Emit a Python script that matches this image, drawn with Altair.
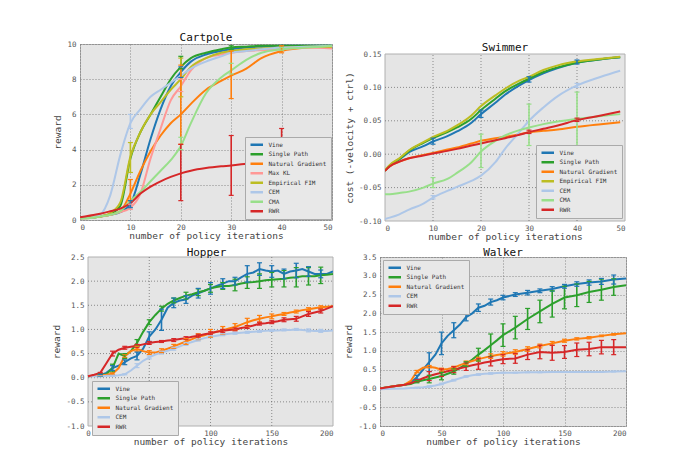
import altair as alt
import pandas as pd

FONT = "DejaVu Sans Mono"
SERIES = ["Vine", "Single Path", "Natural Gradient", "Max KL", "Empirical FIM", "CEM", "CMA", "RWR"]
COLORS = ["#1f77b4", "#2ca02c", "#ff7f0e", "#ff9896", "#bcbd22", "#aec7e8", "#98df8a", "#d62728"]
COLOR_OF = dict(zip(SERIES, COLORS))
BG = "#e5e5e5"
FRAME = "#b0b0b0"
GRID = "#555555"

# ---------------- Cartpole ----------------
CP_X = [0, 2, 4, 6, 8, 10, 12, 14, 16, 18, 20, 22, 25, 28, 30, 33, 36, 40, 45, 50]
CP_VINE = [0.1, 0.15, 0.2, 0.3, 0.45, 0.9, 2.6, 4.6, 6.3, 7.6, 8.4, 9.0, 9.4, 9.6, 9.7, 9.8, 9.85, 9.9, 9.9, 9.9]
CP_SINGLE = [0.1, 0.13, 0.2, 0.35, 0.8, 3.5, 5.0, 6.0, 7.0, 8.0, 8.7, 9.2, 9.5, 9.7, 9.8, 9.85, 9.9, 9.9, 9.9, 9.9]
CP_NATGRAD = [0.1, 0.15, 0.2, 0.3, 0.5, 1.5, 2.8, 3.9, 4.8, 5.5, 6.0, 6.6, 7.4, 7.9, 8.2, 8.6, 9.2, 9.6, 9.8, 9.85]
CP_MAXKL = [0.1, 0.12, 0.2, 0.3, 0.45, 0.7, 1.5, 3.5, 5.2, 6.8, 7.6, 8.5, 9.2, 9.4, 9.5, 9.6, 9.65, 9.7, 9.8, 9.75]
CP_EMPFIM = [0.1, 0.12, 0.2, 0.4, 1.0, 3.6, 5.0, 6.0, 6.7, 7.4, 8.0, 8.7, 9.2, 9.5, 9.6, 9.7, 9.75, 9.8, 9.85, 9.85]
CP_CEM = [0.1, 0.12, 0.3, 1.4, 3.7, 5.5, 6.3, 7.0, 7.4, 7.8, 8.2, 8.6, 9.0, 9.3, 9.5, 9.6, 9.7, 9.8, 9.85, 9.9]
CP_CMA = [0.1, 0.12, 0.2, 0.3, 0.5, 1.1, 1.6, 2.2, 2.8, 3.4, 4.2, 5.5, 7.2, 8.1, 8.5, 9.1, 9.5, 9.7, 9.8, 9.9]
CP_RWR = [0.15, 0.25, 0.35, 0.5, 0.65, 0.95, 1.5, 1.9, 2.2, 2.45, 2.65, 2.8, 2.95, 3.05, 3.1, 3.2, 3.3, 3.4, 3.8, 4.4]
CP_ERR_SERIES = ["Max KL", "Vine", "Natural Gradient", "Empirical FIM", "CEM",
                 "Max KL", "Vine", "Single Path", "Empirical FIM", "Natural Gradient", "CMA", "RWR",
                 "Single Path", "CMA", "Natural Gradient", "RWR",
                 "CMA", "Natural Gradient", "RWR"]
CP_ERR_X = [10, 10, 10, 10, 10,
            20, 20, 20, 20, 20, 20, 20,
            30, 30, 30, 30,
            40, 40, 40]
CP_ERR_LO = [0.6, 0.7, 1.1, 2.7, 5.2,
             7.3, 8.1, 8.6, 7.0, 4.3, 4.0, 1.1,
             9.7, 8.3, 6.9, 1.4,
             9.65, 9.5, 3.0]
CP_ERR_HI = [0.9, 1.1, 2.3, 4.4, 6.0,
             8.0, 8.7, 9.3, 9.2, 8.8, 4.7, 4.3,
             9.9, 8.9, 9.6, 4.8,
             9.8, 9.9, 5.2]

# ---------------- Swimmer ----------------
SW_X = [0, 1, 3, 5, 8, 10, 13, 15, 18, 20, 23, 25, 28, 30, 33, 36, 40, 45, 49]
SW_VINE = [-0.025, -0.018, -0.008, 0.003, 0.012, 0.019, 0.027, 0.034, 0.047, 0.060, 0.077, 0.089, 0.103, 0.111, 0.121, 0.129, 0.137, 0.142, 0.145]
SW_SINGLE = [-0.025, -0.017, -0.007, 0.005, 0.017, 0.024, 0.033, 0.040, 0.053, 0.066, 0.083, 0.094, 0.106, 0.113, 0.123, 0.130, 0.137, 0.142, 0.145]
SW_NATGRAD = [-0.025, -0.018, -0.011, -0.006, -0.001, 0.002, 0.007, 0.010, 0.016, 0.020, 0.024, 0.026, 0.030, 0.033, 0.035, 0.037, 0.041, 0.045, 0.048]
SW_EMPFIM = [-0.024, -0.016, -0.006, 0.006, 0.018, 0.026, 0.035, 0.043, 0.058, 0.072, 0.088, 0.098, 0.110, 0.116, 0.126, 0.133, 0.139, 0.143, 0.146]
SW_CEM = [-0.097, -0.095, -0.090, -0.083, -0.074, -0.065, -0.055, -0.049, -0.040, -0.032, -0.012, 0.008, 0.033, 0.050, 0.070, 0.087, 0.103, 0.116, 0.125]
SW_CMA = [-0.060, -0.060, -0.058, -0.056, -0.050, -0.044, -0.037, -0.028, -0.012, 0.004, 0.020, 0.028, 0.036, 0.040, 0.045, 0.049, 0.053, 0.057, 0.060]
SW_RWR = [-0.025, -0.018, -0.011, -0.006, -0.002, 0.001, 0.005, 0.008, 0.013, 0.016, 0.021, 0.024, 0.029, 0.033, 0.038, 0.043, 0.051, 0.058, 0.064]
SW_ERR_SERIES = ["CMA", "CEM", "Vine", "CMA", "Vine", "CMA", "Vine", "RWR", "CMA", "Vine", "RWR", "CEM"]
SW_ERR_X = [10, 10, 10, 20, 20, 30, 30, 30, 40, 40, 40, 40]
SW_ERR_LO = [-0.050, -0.067, 0.015, -0.020, 0.055, 0.013, 0.108, 0.031, 0.013, 0.135, 0.049, 0.100]
SW_ERR_HI = [-0.035, -0.062, 0.024, 0.030, 0.066, 0.075, 0.116, 0.036, 0.093, 0.141, 0.054, 0.106]

# ---------------- Hopper ----------------
HO_X = list(range(0, 201, 5))
HO_VINE = [0.03, 0.04, 0.05, 0.1, 0.2, 0.25, 0.32, 0.4, 0.45, 0.6, 0.85, 1.0, 1.2, 1.45, 1.55, 1.6, 1.62, 1.7, 1.75, 1.8, 1.85,
           1.9, 1.95, 2.0, 2.0, 2.08, 2.15, 2.18, 2.25, 2.22, 2.2, 2.22, 2.15, 2.2, 2.22, 2.25, 2.2, 2.15, 2.15, 2.15, 2.2]
HO_SINGLE = [0.03, 0.04, 0.05, 0.07, 0.2, 0.5, 0.45, 0.55, 0.72, 0.95, 1.15, 1.3, 1.43, 1.53, 1.6, 1.65, 1.7, 1.73, 1.77, 1.8, 1.85,
             1.88, 1.9, 1.9, 1.92, 1.95, 1.97, 1.98, 2.0, 2.02, 2.03, 2.04, 2.05, 2.07, 2.08, 2.1, 2.1, 2.1, 2.12, 2.13, 2.15]
HO_NATGRAD = [0.03, 0.04, 0.05, 0.06, 0.08, 0.2, 0.45, 0.55, 0.6, 0.55, 0.52, 0.52, 0.56, 0.6, 0.65, 0.7, 0.75, 0.8, 0.85, 0.88, 0.92,
              0.95, 0.98, 1.02, 1.05, 1.1, 1.15, 1.19, 1.22, 1.25, 1.27, 1.3, 1.32, 1.35, 1.37, 1.4, 1.42, 1.44, 1.46, 1.47, 1.48]
HO_CEM = [0.03, 0.03, 0.03, 0.04, 0.04, 0.05, 0.07, 0.15, 0.25, 0.35, 0.42, 0.48, 0.52, 0.56, 0.6, 0.65, 0.7, 0.74, 0.78, 0.82, 0.85,
          0.87, 0.89, 0.91, 0.92, 0.93, 0.94, 0.95, 0.96, 0.97, 0.98, 0.98, 0.99, 0.99, 1.0, 0.99, 0.98, 0.97, 0.97, 0.97, 0.98]
HO_RWR = [0.03, 0.06, 0.1, 0.3, 0.5, 0.58, 0.62, 0.64, 0.66, 0.69, 0.72, 0.74, 0.75, 0.77, 0.78, 0.8, 0.82, 0.85, 0.87, 0.9, 0.92,
          0.95, 0.97, 0.99, 1.0, 1.03, 1.05, 1.08, 1.12, 1.13, 1.15, 1.17, 1.2, 1.21, 1.22, 1.27, 1.32, 1.35, 1.38, 1.43, 1.48]
HO_ERR_X = list(range(10, 191, 10))
HO_ERR_VINE = [0.02, 0.05, 0.05, 0.08, 0.1, 0.22, 0.1, 0.08, 0.1, 0.12, 0.1, 0.08, 0.17, 0.13, 0.12, 0.1, 0.15, 0.1, 0.08]
HO_ERR_SINGLE = [0.02, 0.08, 0.05, 0.07, 0.05, 0.05, 0.05, 0.07, 0.07, 0.08, 0.07, 0.12, 0.12, 0.15, 0.15, 0.17, 0.2, 0.18, 0.17]
HO_ERR_NATGRAD = [0.01, 0.02, 0.03, 0.05, 0.04, 0.04, 0.04, 0.06, 0.06, 0.08, 0.08, 0.07, 0.08, 0.07, 0.05, 0.03, 0.03, 0.03, 0.03]
HO_ERR_CEM = [0.01, 0.01, 0.01, 0.04, 0.03, 0.03, 0.03, 0.03, 0.02, 0.02, 0.02, 0.02, 0.02, 0.02, 0.02, 0.02, 0.02, 0.03, 0.03]
HO_ERR_RWR = [0.01, 0.05, 0.03, 0.03, 0.03, 0.02, 0.03, 0.03, 0.03, 0.03, 0.03, 0.03, 0.03, 0.03, 0.03, 0.04, 0.05, 0.05, 0.04]

# ---------------- Walker ----------------
WA_X = [0, 10, 20, 25, 30, 35, 40, 45, 50, 55, 60, 65, 70, 75, 80, 85, 90, 95, 100, 110, 120, 130, 140, 150, 160, 170, 180, 190, 200]
WA_VINE = [0.0, 0.05, 0.1, 0.15, 0.3, 0.5, 0.7, 0.9, 1.2, 1.4, 1.55, 1.7, 1.9, 2.0, 2.15, 2.2, 2.3, 2.35, 2.42, 2.5, 2.55, 2.6, 2.65, 2.72, 2.78, 2.82, 2.85, 2.9, 2.93]
WA_SINGLE = [0.0, 0.05, 0.1, 0.12, 0.18, 0.22, 0.25, 0.29, 0.33, 0.39, 0.45, 0.55, 0.65, 0.77, 0.9, 1.02, 1.15, 1.28, 1.42, 1.62, 1.85, 2.05, 2.25, 2.42, 2.48, 2.57, 2.63, 2.7, 2.75]
WA_NATGRAD = [0.0, 0.05, 0.1, 0.2, 0.45, 0.55, 0.58, 0.55, 0.5, 0.52, 0.55, 0.62, 0.68, 0.73, 0.78, 0.82, 0.86, 0.89, 0.92, 0.97, 1.05, 1.13, 1.2, 1.27, 1.32, 1.35, 1.4, 1.44, 1.47]
WA_CEM = [-0.02, -0.01, 0.0, 0.01, 0.02, 0.03, 0.05, 0.08, 0.12, 0.17, 0.22, 0.27, 0.32, 0.35, 0.37, 0.39, 0.4, 0.41, 0.42, 0.42, 0.43, 0.43, 0.44, 0.44, 0.44, 0.44, 0.44, 0.45, 0.46]
WA_RWR = [0.0, 0.05, 0.1, 0.14, 0.2, 0.27, 0.33, 0.38, 0.42, 0.46, 0.5, 0.54, 0.58, 0.62, 0.65, 0.69, 0.72, 0.75, 0.78, 0.8, 0.9, 0.97, 0.95, 0.97, 1.03, 1.05, 1.1, 1.1, 1.1]
WA_ERR_X = list(range(30, 191, 10))
WA_ERR_VINE = [0.05, 0.25, 0.3, 0.2, 0.1, 0.1, 0.08, 0.06, 0.05, 0.06, 0.05, 0.06, 0.05, 0.06, 0.07, 0.08, 0.12]
WA_ERR_SINGLE = [0.03, 0.1, 0.1, 0.07, 0.06, 0.17, 0.3, 0.3, 0.3, 0.28, 0.3, 0.35, 0.3, 0.3, 0.28, 0.28, 0.22]
WA_ERR_NATGRAD = [0.03, 0.03, 0.04, 0.04, 0.05, 0.05, 0.06, 0.06, 0.06, 0.06, 0.05, 0.05, 0.04, 0.03, 0.03, 0.02, 0.02]
WA_ERR_CEM = [0.01, 0.02, 0.02, 0.02, 0.02, 0.02, 0.02, 0.01, 0.01, 0.01, 0.01, 0.01, 0.01, 0.01, 0.01, 0.01, 0.01]
WA_ERR_RWR = [0.03, 0.12, 0.1, 0.08, 0.1, 0.14, 0.12, 0.12, 0.13, 0.13, 0.18, 0.2, 0.17, 0.18, 0.18, 0.18, 0.2]


def errs_from_halfwidth(x, series, err_x, halfwidths):
    s_out, x_out, lo, hi = [], [], [], []
    for name, hw in halfwidths.items():
        vals = series[name]
        for xv, h in zip(err_x, hw):
            c = vals[x.index(xv)]
            s_out.append(name)
            x_out.append(xv)
            lo.append(c - h)
            hi.append(c + h)
    return s_out, x_out, lo, hi


def make_panel(title, x, series, errs, xdom, xticks, ydom, yticks, yfmt, ytitle,
               legend_orient, legend_offset, w, h, interp, drop_px=0, left_px=0, legend_xy=None):
    """drop_px / left_px > 0 move the framed plot box down / right inside its cell."""
    names = list(series.keys())
    rows = [{"x": xv, "y": yv, "s": n} for n in names for xv, yv in zip(x, series[n])]
    df = pd.DataFrame(rows)
    es, ex, elo, ehi = errs
    edf = pd.DataFrame({"s": es, "x": ex, "lo": elo, "hi": ehi})
    cscale = alt.Scale(domain=names, range=[COLOR_OF[n] for n in names])
    if legend_xy:
        leg = alt.Legend(orient="none", legendX=legend_xy[0], legendY=legend_xy[1], title=None)
    else:
        leg = alt.Legend(orient=legend_orient, offset=legend_offset, title=None)
    color = alt.Color("s:N", scale=cscale, sort=names, legend=leg)
    boxed = bool(drop_px or left_px)
    ytop = ydom[1] + (ydom[1] - ydom[0]) * drop_px / h
    xlo = xdom[0] - (xdom[1] - xdom[0]) * left_px / w
    xscale = alt.Scale(domain=[xlo, xdom[1]], nice=False, zero=False)
    xargs = dict(values=xticks, title="number of policy iterations", format="d",
                 labelPadding=3, titlePadding=0, grid=not boxed)
    if left_px:
        xargs["titleX"] = left_px + w / 2
    xaxis = alt.Axis(**xargs)
    yscale = alt.Scale(domain=[ydom[0], ytop], nice=False, zero=False)
    yargs = dict(values=yticks, title=ytitle, format=yfmt, grid=not boxed,
                 labelExpr="replace(datum.label, '\u2212', '-')")
    if drop_px:
        yargs["titleY"] = drop_px + h / 2
    if left_px:
        yargs["offset"] = -left_px
    yaxis = alt.Axis(**yargs)
    X = lambda f: alt.X(f, scale=xscale, axis=xaxis)
    Y = lambda f: alt.Y(f, scale=yscale, axis=yaxis)

    layers = []
    if boxed:
        box = pd.DataFrame({"x0": [xdom[0]], "x1": [xdom[1]], "y0": [ydom[0]], "y1": [ydom[1]]})
        layers.append(alt.Chart(box).mark_rect(fill=BG, stroke=FRAME, strokeWidth=1).encode(
            x=X("x0:Q"), x2="x1:Q", y=Y("y0:Q"), y2="y1:Q"))
        vg = pd.DataFrame({"gx": [t for t in xticks if xdom[0] < t < xdom[1]]})
        vg["y0"] = ydom[0]
        vg["y1"] = ydom[1]
        layers.append(alt.Chart(vg).mark_rule(color=GRID, strokeDash=[1, 2], strokeWidth=0.8, opacity=0.8).encode(
            x=X("gx:Q"), y=Y("y0:Q"), y2="y1:Q"))
        hg = pd.DataFrame({"gy": [t for t in yticks if ydom[0] < t < ydom[1]]})
        hg["x0"] = xdom[0]
        hg["x1"] = xdom[1]
        layers.append(alt.Chart(hg).mark_rule(color=GRID, strokeDash=[1, 2], strokeWidth=0.8, opacity=0.8).encode(
            x=X("x0:Q"), x2="x1:Q", y=Y("gy:Q")))

    layers.append(alt.Chart(df).mark_line(strokeWidth=2, interpolate=interp, clip=True).encode(
        x=X("x:Q"), y=Y("y:Q"), color=color))
    layers.append(alt.Chart(edf).mark_rule(strokeWidth=1.6, clip=True).encode(
        x=X("x:Q"), y=Y("lo:Q"), y2="hi:Q", color=color))
    layers.append(alt.Chart(edf).mark_tick(orient="horizontal", size=5, thickness=1.2, opacity=1, clip=True).encode(
        x=X("x:Q"), y=Y("lo:Q"), color=color))
    layers.append(alt.Chart(edf).mark_tick(orient="horizontal", size=5, thickness=1.2, opacity=1, clip=True).encode(
        x=X("x:Q"), y=Y("hi:Q"), color=color))
    out = alt.layer(*layers).properties(width=w + left_px, height=h + drop_px, title=title)
    if boxed:
        out = out.properties(view=alt.ViewBackground(fill="transparent", stroke="transparent"))
    return out


cp_series = {"Vine": CP_VINE, "Single Path": CP_SINGLE, "Natural Gradient": CP_NATGRAD,
             "Max KL": CP_MAXKL, "Empirical FIM": CP_EMPFIM, "CEM": CP_CEM, "CMA": CP_CMA, "RWR": CP_RWR}
cartpole = make_panel(alt.TitleParams("Cartpole", dy=4), CP_X, cp_series,
                      (CP_ERR_SERIES, CP_ERR_X, CP_ERR_LO, CP_ERR_HI),
                      [0, 50], [0, 10, 20, 30, 40, 50], [0, 10], [0, 2, 4, 6, 8, 10], "d", "reward",
                      "bottom-right", 1, 252, 176, "monotone")

sw_series = {"Vine": SW_VINE, "Single Path": SW_SINGLE, "Natural Gradient": SW_NATGRAD,
             "Empirical FIM": SW_EMPFIM, "CEM": SW_CEM, "CMA": SW_CMA, "RWR": SW_RWR}
swimmer = make_panel(alt.TitleParams("Swimmer", dy=10), SW_X, sw_series,
                     (SW_ERR_SERIES, SW_ERR_X, SW_ERR_LO, SW_ERR_HI),
                     [0, 50], [0, 10, 20, 30, 40, 50], [-0.10, 0.15],
                     [-0.10, -0.05, 0.0, 0.05, 0.10, 0.15], ".2f", "cost (-velocity + ctrl)",
                     "bottom-right", 3, 240, 167, "monotone", drop_px=10)

ho_series = {"Vine": HO_VINE, "Single Path": HO_SINGLE, "Natural Gradient": HO_NATGRAD,
             "CEM": HO_CEM, "RWR": HO_RWR}
ho_errs = errs_from_halfwidth(HO_X, ho_series, HO_ERR_X,
                              {"CEM": HO_ERR_CEM, "Natural Gradient": HO_ERR_NATGRAD, "RWR": HO_ERR_RWR,
                               "Single Path": HO_ERR_SINGLE, "Vine": HO_ERR_VINE})
hopper = make_panel(alt.TitleParams("Hopper", dy=6), HO_X, ho_series, ho_errs,
                    [0, 200], [0, 50, 100, 150, 200], [-1.0, 2.5],
                    [-1.0, -0.5, 0.0, 0.5, 1.0, 1.5, 2.0, 2.5], ".1f", "reward",
                    "bottom-left", 4, 245, 169, "linear", left_px=8, legend_xy=(12, 124))

wa_series = {"Vine": WA_VINE, "Single Path": WA_SINGLE, "Natural Gradient": WA_NATGRAD,
             "CEM": WA_CEM, "RWR": WA_RWR}
wa_errs = errs_from_halfwidth(WA_X, wa_series, WA_ERR_X,
                              {"CEM": WA_ERR_CEM, "Natural Gradient": WA_ERR_NATGRAD, "RWR": WA_ERR_RWR,
                               "Single Path": WA_ERR_SINGLE, "Vine": WA_ERR_VINE})
walker = make_panel(alt.TitleParams("Walker", dy=6), WA_X, wa_series, wa_errs,
                    [0, 200], [0, 50, 100, 150, 200], [-1.0, 3.5],
                    [-1.0, -0.5, 0.0, 0.5, 1.0, 1.5, 2.0, 2.5, 3.0, 3.5], ".1f", "reward",
                    "top-left", 3, 246, 169, "linear")

chart = alt.concat(cartpole, swimmer, hopper, walker, columns=2, align="none",
                   spacing={"row": 4, "column": 9}).resolve_scale(color="independent").properties(
    padding={"left": 43, "top": 23, "right": 5, "bottom": 2}
).configure_view(
    fill=BG, stroke=FRAME, strokeWidth=1
).configure_axis(
    gridColor=GRID, gridDash=[1, 2], gridOpacity=0.8, gridWidth=0.8,
    domain=False, ticks=False, labelOverlap=False,
    labelFont=FONT, labelFontSize=7.5, labelColor="#555555", labelPadding=4,
    titleFont=FONT, titleFontSize=9.5, titleColor="#444444", titleFontWeight="normal", titlePadding=4
).configure_legend(
    labelFont=FONT, labelFontSize=6, labelColor="#333333", symbolType="M-1,0L4,0", symbolStrokeWidth=2.5,
    symbolSize=25, symbolFillColor="transparent", labelOffset=11.5, clipHeight=7.5,
    fillColor="#e8e8e8", strokeColor="#aaaaaa", padding=4, rowPadding=1.5,
    labelLimit=200
).configure_title(
    font=FONT, fontSize=11, fontWeight="normal", color="#111111", offset=1, anchor="middle"
)

chart.save("out.html", embed_options={"renderer": "svg", "actions": False})
